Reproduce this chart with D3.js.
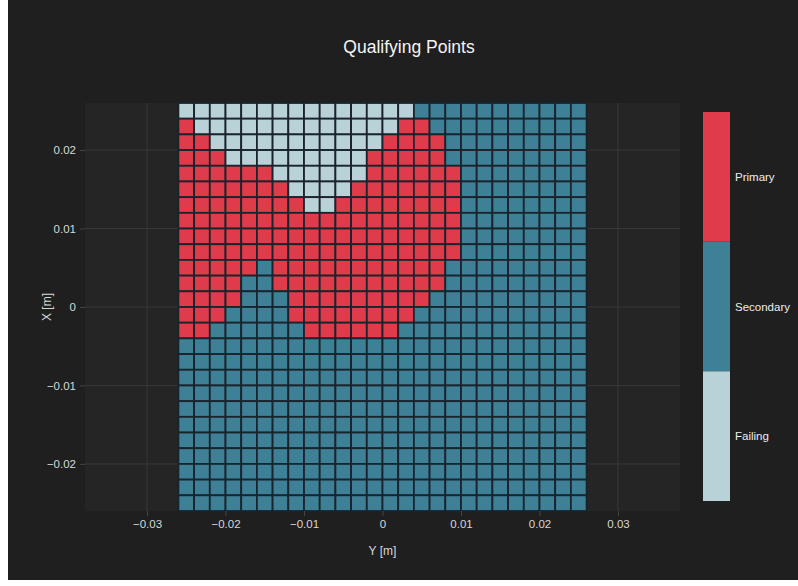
<!DOCTYPE html>
<html>
<head>
<meta charset="utf-8">
<script src="https://cdn.jsdelivr.net/npm/d3@7"></script>
<style>
  html, body { margin: 0; padding: 0; background: #ffffff; }
  svg { display: block; }
  text { font-family: "Liberation Sans", Arial, sans-serif; }
</style>
</head>
<body>
<div id="root"></div>
<script>
// categories shown on the colour bar, top to bottom
const categories = ["Primary", "Secondary", "Failing"];
const categoryCodes = { P: "Primary", S: "Secondary", F: "Failing" };
const categoryColors = ["#df3b4b", "#3e8095", "#b9d2d7"];

// cell centres, horizontal axis (Y [m])
const yCentres = [-0.025, -0.023, -0.021, -0.019, -0.017, -0.015, -0.013, -0.011, -0.009,
  -0.007, -0.005, -0.003, -0.001, 0.001, 0.003, 0.005, 0.007, 0.009, 0.011, 0.013,
  0.015, 0.017, 0.019, 0.021, 0.023, 0.025];

// cell centres, vertical axis (X [m]), top row first
const xCentres = [0.025, 0.023, 0.021, 0.019, 0.017, 0.015, 0.013, 0.011, 0.009,
  0.007, 0.005, 0.003, 0.001, -0.001, -0.003, -0.005, -0.007, -0.009, -0.011, -0.013,
  -0.015, -0.017, -0.019, -0.021, -0.023, -0.025];

// classification of each cell, one string per row (top row first)
const cellRows = [
  "FFFFFFFFFFFFFFFSSSSSSSSSSS",
  "PFFFFFFFFFFFFFPPSSSSSSSSSS",
  "PPFFFFFFFFFFFPPPPSSSSSSSSS",
  "PPPFFFFFFFFFPPPPPSSSSSSSSS",
  "PPPPPPFFFFFFPPPPPPSSSSSSSS",
  "PPPPPPPFFFFPPPPPPPSSSSSSSS",
  "PPPPPPPPFFPPPPPPPPSSSSSSSS",
  "PPPPPPPPPPPPPPPPPPSSSSSSSS",
  "PPPPPPPPPPPPPPPPPPSSSSSSSS",
  "PPPPPPPPPPPPPPPPPPSSSSSSSS",
  "PPPPPSPPPPPPPPPPPSSSSSSSSS",
  "PPPPSSPPPPPPPPPPPSSSSSSSSS",
  "PPPPSSSPPPPPPPPPSSSSSSSSSS",
  "PPPSSSSPPPPPPPPSSSSSSSSSSS",
  "PPSSSSSSPPPPPPSSSSSSSSSSSS",
  "SSSSSSSSSSSSSSSSSSSSSSSSSS",
  "SSSSSSSSSSSSSSSSSSSSSSSSSS",
  "SSSSSSSSSSSSSSSSSSSSSSSSSS",
  "SSSSSSSSSSSSSSSSSSSSSSSSSS",
  "SSSSSSSSSSSSSSSSSSSSSSSSSS",
  "SSSSSSSSSSSSSSSSSSSSSSSSSS",
  "SSSSSSSSSSSSSSSSSSSSSSSSSS",
  "SSSSSSSSSSSSSSSSSSSSSSSSSS",
  "SSSSSSSSSSSSSSSSSSSSSSSSSS",
  "SSSSSSSSSSSSSSSSSSSSSSSSSS",
  "SSSSSSSSSSSSSSSSSSSSSSSSSS"
];

const xTicks = [-0.03, -0.02, -0.01, 0, 0.01, 0.02, 0.03];
const yTicks = [-0.02, -0.01, 0, 0.01, 0.02];
const cellSize = 0.002;

const W = 798, H = 586;
const plot = { left: 85, right: 680, top: 103, bottom: 511 };

// build flat cell list
let cells = [];
cellRows.forEach((row, r) => {
  row.split("").forEach((code, c) => {
    cells.push({ y: yCentres[c], x: xCentres[r], cat: categoryCodes[code] });
  });
});

const xScale = d3.scaleLinear().domain([-0.0379, 0.0379]).range([plot.left, plot.right]);
const yScale = d3.scaleLinear().domain([-0.026, 0.026]).range([plot.bottom, plot.top]);
const color = d3.scaleOrdinal().domain(categories).range(categoryColors);

const svg = d3.select("#root").append("svg")
  .attr("width", W)
  .attr("height", H);

// paper + plot backgrounds
svg.append("rect").attr("x", 8).attr("y", 0).attr("width", W - 8).attr("height", 580).attr("fill", "#1f1f1f");
svg.append("rect")
  .attr("x", plot.left).attr("y", plot.top)
  .attr("width", plot.right - plot.left).attr("height", plot.bottom - plot.top)
  .attr("fill", "#252525");

// grid lines
let grid = svg.append("g").attr("class", "grid");
grid.selectAll(".vx").data(xTicks).enter().append("line")
  .attr("x1", d => xScale(d)).attr("x2", d => xScale(d))
  .attr("y1", plot.top).attr("y2", plot.bottom)
  .attr("stroke", "#393939").attr("stroke-width", 1);
grid.selectAll(".hy").data(yTicks).enter().append("line")
  .attr("y1", d => yScale(d)).attr("y2", d => yScale(d))
  .attr("x1", plot.left).attr("x2", plot.right)
  .attr("stroke", "#393939").attr("stroke-width", 1);

// heatmap cells
const cw = xScale(cellSize) - xScale(0);
const ch = yScale(0) - yScale(cellSize);
svg.append("g").selectAll(".cell").data(cells).enter().append("rect")
  .attr("class", "cell")
  .attr("x", d => xScale(d.y - cellSize / 2))
  .attr("y", d => yScale(d.x + cellSize / 2))
  .attr("width", cw)
  .attr("height", ch)
  .attr("fill", d => color(d.cat))
  .attr("stroke", "#1a242d")
  .attr("stroke-width", 1.8);

// axes
let axes = svg.append("g").classed("axes", true);
let xAxis = d3.axisBottom(xScale).tickValues(xTicks).tickSize(5).tickPadding(4)
  .tickFormat(d => d === 0 ? "0" : d3.format(".2f")(d).replace("-", "\u2212"));
let yAxis = d3.axisLeft(yScale).tickValues(yTicks).tickSize(5).tickPadding(4)
  .tickFormat(d => d === 0 ? "0" : d3.format(".2f")(d).replace("-", "\u2212"));

axes.append("g")
  .attr("transform", `translate(0, ${plot.bottom})`)
  .call(xAxis);
axes.append("g")
  .attr("transform", `translate(${plot.left}, 0)`)
  .call(yAxis);

axes.selectAll(".domain").remove();
axes.selectAll(".tick line").attr("stroke", "#444");
axes.selectAll(".tick text")
  .attr("fill", "#d8d8d8")
  .style("font-size", "11.5px");

// axis titles
svg.append("text")
  .attr("x", xScale(0)).attr("y", 555)
  .attr("text-anchor", "middle")
  .attr("fill", "#d8d8d8").style("font-size", "12px")
  .text("Y [m]");
svg.append("text")
  .attr("transform", `translate(51, ${yScale(0)}) rotate(-90)`)
  .attr("text-anchor", "middle")
  .attr("fill", "#d8d8d8").style("font-size", "12px")
  .text("X [m]");

// title
svg.append("text")
  .attr("x", 409).attr("y", 53)
  .attr("text-anchor", "middle")
  .attr("fill", "#f4f4f4").style("font-size", "17.5px")
  .text("Qualifying Points");

// colour bar
const barScale = d3.scaleBand().domain(categories).range([112, 501]);
let bar = svg.append("g").attr("class", "colorbar");
bar.selectAll("rect").data(categories).enter().append("rect")
  .attr("x", 703).attr("y", d => barScale(d))
  .attr("width", 27).attr("height", barScale.bandwidth())
  .attr("fill", d => color(d));
bar.selectAll("text").data(categories).enter().append("text")
  .attr("x", 735).attr("y", d => barScale(d) + barScale.bandwidth() / 2 + 4)
  .attr("fill", "#ededed").style("font-size", "11.5px")
  .text(d => d);
</script>
</body>
</html>
